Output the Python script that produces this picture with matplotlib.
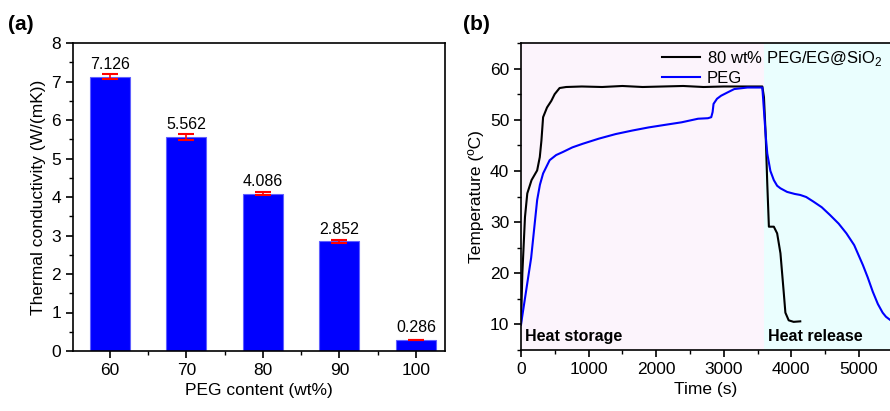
import numpy as np
import matplotlib
matplotlib.use("Agg")
import matplotlib.pyplot as plt
from matplotlib.ticker import MultipleLocator

plt.rcParams['font.family'] = ['Liberation Sans', 'DejaVu Sans']
plt.rcParams['mathtext.fontset'] = 'custom'
plt.rcParams['mathtext.rm'] = 'Liberation Sans'

# (a) thermal conductivity
peg_content = ['60', '70', '80', '90', '100']
conductivity = [7.126, 5.562, 4.086, 2.852, 0.286]
cond_err = [0.06, 0.07, 0.04, 0.04, 0.01]

# (b) temperature curves
t_comp = [0, 20, 59, 93, 156, 239, 278, 302, 327, 385, 449, 498, 571, 668, 900, 1200,
          1500, 1800, 2100, 2400, 2700, 3000, 3300, 3571, 3595, 3620, 3644, 3668, 3741,
          3790, 3839, 3888, 3912, 3961, 4034, 4132]
temp_comp = [10, 20, 31, 35.6, 38.2, 40.1, 42.7, 45.9, 50.5, 52.4, 53.7, 55, 56.2, 56.4,
             56.5, 56.4, 56.6, 56.4, 56.5, 56.6, 56.4, 56.5, 56.5, 56.5, 54.4, 47.2, 37.5,
             29.1, 29.1, 27.8, 23.9, 16.2, 12.3, 10.8, 10.5, 10.6]
t_peg = [0, 150, 239, 280, 327, 424, 520, 620, 760, 912, 1150, 1400, 1650, 1888, 2130,
         2376, 2620, 2766, 2815, 2835, 2849, 2900, 2961, 3050, 3156, 3351, 3571, 3595,
         3620, 3644, 3690, 3741, 3790, 3839, 3937, 4050, 4132, 4220, 4327, 4450, 4571,
         4700, 4815, 4930, 5059, 5130, 5205, 5280, 5351, 5400, 5460]
temp_peg = [10, 23, 34.3, 37.3, 39.5, 42.1, 43.1, 43.7, 44.6, 45.3, 46.3, 47.2, 47.9,
            48.5, 49.0, 49.5, 50.2, 50.3, 50.5, 51.5, 53.1, 54.1, 54.7, 55.3, 56.0, 56.3,
            56.3, 51.8, 47.0, 43.4, 40.0, 38.2, 37.1, 36.6, 35.9, 35.5, 35.3, 34.9, 34.0,
            32.9, 31.4, 29.7, 27.8, 25.5, 21.6, 19.2, 16.4, 14.0, 12.3, 11.5, 10.9]
t_switch = 3600

fig = plt.figure(figsize=(8.9, 4.11), dpi=100)
W, H = 890, 411

# panel (a)
ax1 = fig.add_axes([73 / W, 1 - 351 / H, (445 - 73) / W, (351 - 43) / H])
x = np.arange(len(peg_content))
ax1.bar(x, conductivity, width=0.52, color='#0000ff', edgecolor='#6060ff', linewidth=0.8,
        yerr=cond_err, error_kw=dict(ecolor='red', capsize=6, elinewidth=1.2, capthick=1.5))
for xi, v in zip(x, conductivity):
    ax1.text(xi, v + 0.12, f'{v:.3f}', ha='center', va='bottom', fontsize=11.5)
ax1.set_xlim(-0.48, 4.38)
ax1.set_ylim(0, 8)
ax1.set_xticks(x)
ax1.set_xticklabels(peg_content)
ax1.set_xticks(x[:-1] + 0.5, minor=True)
ax1.yaxis.set_major_locator(MultipleLocator(1))
ax1.yaxis.set_minor_locator(MultipleLocator(0.5))
ax1.tick_params(labelsize=12.5, direction='out', length=5, width=1.2)
ax1.tick_params(which='minor', direction='out', length=3, width=1)
ax1.set_xlabel('PEG content (wt%)', fontsize=12.5)
ax1.set_ylabel('Thermal conductivity (W/(mK))', fontsize=12.5)
for s in ax1.spines.values():
    s.set_linewidth(1.2)
fig.text(8 / W, 1 - 25 / H, '(a)', fontsize=15, fontweight='bold', va='center')

# panel (b)
ax2 = fig.add_axes([521 / W, 1 - 350 / H, (890 - 521) / W, (350 - 43) / H])
ax2.axvspan(0, t_switch, color='#fcf4fc', lw=0)
ax2.axvspan(t_switch, 6000, color='#eafefe', lw=0)
ax2.plot(t_comp, temp_comp, color='black', lw=1.5, label='80 wt% PEG/EG@SiO$_2$')
ax2.plot(t_peg, temp_peg, color='#0000ff', lw=1.5, label='PEG')
ax2.set_xlim(0, 5460)
ax2.set_ylim(5, 65)
ax2.xaxis.set_major_locator(MultipleLocator(1000))
ax2.xaxis.set_minor_locator(MultipleLocator(500))
ax2.yaxis.set_major_locator(MultipleLocator(10))
ax2.yaxis.set_minor_locator(MultipleLocator(5))
ax2.tick_params(labelsize=12.5, direction='out', length=5, width=1.2)
ax2.tick_params(which='minor', direction='out', length=3, width=1)
ax2.spines['right'].set_visible(False)
for s in ax2.spines.values():
    s.set_linewidth(1.2)
ax2.set_xlabel('Time (s)', fontsize=12.5)
ax2.set_ylabel('Temperature (\u00baC)', fontsize=12.5)
ax2.text(60, 7.7, 'Heat storage', fontsize=11.5, fontweight='bold', va='center')
ax2.text(3660, 7.7, 'Heat release', fontsize=11.5, fontweight='bold', va='center')
ax2.legend(loc='upper right', bbox_to_anchor=(1.02, 1.03), frameon=False, fontsize=12,
           handlelength=2.3, handletextpad=0.4, labelspacing=0.2)
fig.text(463 / W, 1 - 25 / H, '(b)', fontsize=15, fontweight='bold', va='center')

fig.savefig('out.png', dpi=100)
